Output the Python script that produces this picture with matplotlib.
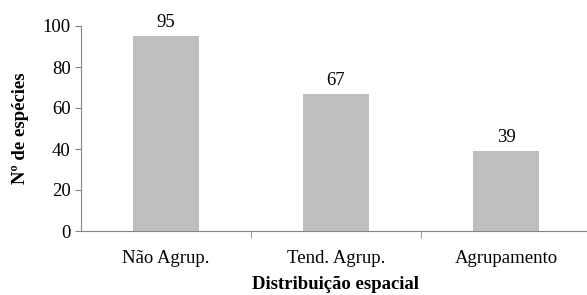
import matplotlib.pyplot as plt
import numpy as np

categorias = ["Não Agrup.", "Tend. Agrup.", "Agrupamento"]
especies = [95, 67, 39]

plt.rcParams['font.family'] = ['Liberation Serif', 'DejaVu Serif']

fig = plt.figure(figsize=(5.87, 2.95), dpi=100)
ax = fig.add_axes([81/587, 64/295, 510/587, 205/295])

x = np.arange(len(categorias))
barras = ax.bar(x, especies, width=0.39, color="#bfbfbf")
for xi, v in zip(x, especies):
    ax.text(xi, v + 2.5, str(v), ha="center", va="bottom", fontsize=13.5)

ax.set_xlim(-0.5, len(categorias) - 0.5)
ax.set_ylim(0, 100)
ax.set_yticks(range(0, 101, 20))

gris = "#868686"
for s in ["top", "right"]:
    ax.spines[s].set_visible(False)
ax.spines["left"].set_color(gris)
ax.spines["bottom"].set_color(gris)

ax.set_xticks(x)
ax.set_xticklabels(categorias)
ax.set_xticks(np.arange(0.5, len(categorias) - 0.5, 1), minor=True)
ax.tick_params(axis="x", which="major", length=0, pad=14, labelsize=13.5)
ax.tick_params(axis="x", which="minor", length=5, color=gris)
ax.tick_params(axis="y", length=4.3, color=gris, labelsize=13.5, pad=3)

ax.set_ylabel("Nº de espécies", fontweight="bold", fontsize=13.5, labelpad=10)
ax.set_xlabel("Distribuição espacial", fontweight="bold", fontsize=13.5, labelpad=6)

fig.savefig("out.png", dpi=100)
